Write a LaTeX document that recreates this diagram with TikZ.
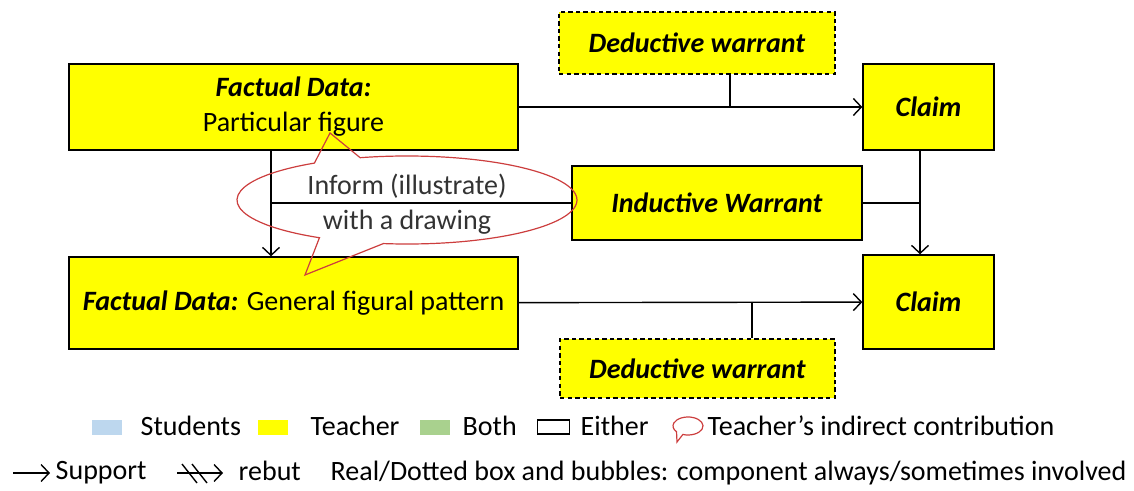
\documentclass[tikz,border=0pt]{standalone}
\usepackage{xcolor}
\usepackage{fontspec}
\setmainfont{Carlito}
\usepackage{tikz}
\usetikzlibrary{shapes,arrows,arrows.meta,calc}

\definecolor{tyellow}{RGB}{255,255,0}
\definecolor{sblue}{RGB}{189,215,238}
\definecolor{bgreen}{RGB}{169,209,142}
\definecolor{bubred}{RGB}{204,62,62}

\begin{document}
\begin{tikzpicture}[x=0.5pt, y=0.5pt, line width=0.7pt,
    font=\fontsize{14}{17.5}\selectfont,
    >={Straight Barb[length=4pt,width=8.5pt]},
    box/.style={rectangle, draw, fill=tyellow, align=center, inner sep=0pt},
    dbox/.style={box, dash pattern=on 2.2pt off 1.6pt},
    key/.style={rectangle, inner sep=0pt, minimum width=15pt, minimum height=7.5pt},
    keytext/.style={anchor=base west, inner sep=0pt}]
    \useasboundingbox (0,0) rectangle (1134,-491);

    % boxes
    \node [dbox, minimum width=138pt, minimum height=31pt] (dwtop) at (697,-43) {\textbf{\textit{Deductive warrant}}};
    \node [box, minimum width=224.5pt, minimum height=43pt] (fdpart) at (293.5,-107) {\textbf{\textit{Factual Data:}}\\Particular figure};
    \node [box, minimum width=65.5pt, minimum height=43pt] (claimtop) at (928.5,-107) {\textbf{\textit{Claim}}};
    \node [box, minimum width=145pt, minimum height=37pt] (indw) at (717,-203) {\textbf{\textit{Inductive Warrant}}};
    \node [box, minimum width=224.5pt, minimum height=46pt] (fdgen) at (293.5,-303) {\textbf{\textit{Factual Data:}} General figural pattern};
    \node [box, minimum width=65.5pt, minimum height=47pt] (claimbot) at (928.5,-302) {\textbf{\textit{Claim}}};
    \node [dbox, minimum width=137.5pt, minimum height=29.5pt] (dwbot) at (697.5,-368.5) {\textbf{\textit{Deductive warrant}}};

    % joints on the arrows
    \coordinate (jtop) at (730,-107);
    \coordinate (jbot) at (752,-302);
    \coordinate (jleft) at (271,-203);
    \coordinate (jright) at (920,-203);

    \draw [->] (fdpart) -- (claimtop);
    \draw (jtop |- dwtop.south) -- (jtop);
    \draw [->] (fdgen) -- (claimbot);
    \draw (jbot |- dwbot.north) -- (jbot);
    \draw [->] (jleft |- fdpart.south) -- (jleft |- fdgen.north);
    \draw (indw.west) -- (jleft);
    \draw [->] (jright |- claimtop.south) -- (jright |- claimbot.north);
    \draw (indw.east) -- (jright);

    % speech bubble
    \coordinate (bc) at (407,-200);
    \draw [bubred, line width=0.6pt] ($(bc)+(123:85pt and 22pt)$)
        arc [start angle=123, end angle=239, x radius=85pt, y radius=22pt]
        -- (305,-275) -- ($(bc)+(262:85pt and 22pt)$)
        arc [start angle=262, end angle=466, x radius=85pt, y radius=22pt]
        -- (330,-133) -- cycle;
    \node [text=black!80, align=center, inner sep=0pt] (inform) at (407,-204) {Inform (illustrate)\\with a drawing};

    % legend, first row
    \node [key, fill=sblue] (kstu) at (107,-427) {};
    \node [keytext] (lstu) at (140,-435) {Students};
    \node [key, fill=tyellow] (kteach) at (273,-427) {};
    \node [keytext] (lteach) at (310,-435) {Teacher};
    \node [key, fill=bgreen] (kboth) at (435,-427) {};
    \node [keytext] (lboth) at (462,-435) {Both};
    \node [key, draw, minimum width=16pt, minimum height=7pt] (keither) at (553.5,-427) {};
    \node [keytext] (leither) at (580,-435) {Either};
    \coordinate (kbub) at (688,-426);
    \draw [bubred, line width=0.6pt] ($(kbub)+(250:7.5pt and 4.5pt)$)
        arc [start angle=250, end angle=580, x radius=7.5pt, y radius=4.5pt]
        -- (677,-442) -- cycle;
    \node [keytext] (lind) at (707,-435) {Teacher’s indirect contribution};

    % legend, second row
    \coordinate (ksup) at (13,-473);
    \node [anchor=west, inner sep=2.5pt] (lsup) at (50,-473) {Support};
    \draw [->] (ksup) -- (lsup.west);
    \coordinate (kreb) at (177,-473);
    \coordinate (kreb2) at (223,-473);
    \draw [->] (kreb) -- (kreb2);
    \draw (182,-464) -- (197,-483);
    \draw (192,-464) -- (207,-483);
    \node [keytext] (lreb) at (238,-480) {rebut};
    \node [keytext] (lreal) at (330,-480) {Real/Dotted box and bubbles: component always/sometimes involved};
\end{tikzpicture}
\end{document}
